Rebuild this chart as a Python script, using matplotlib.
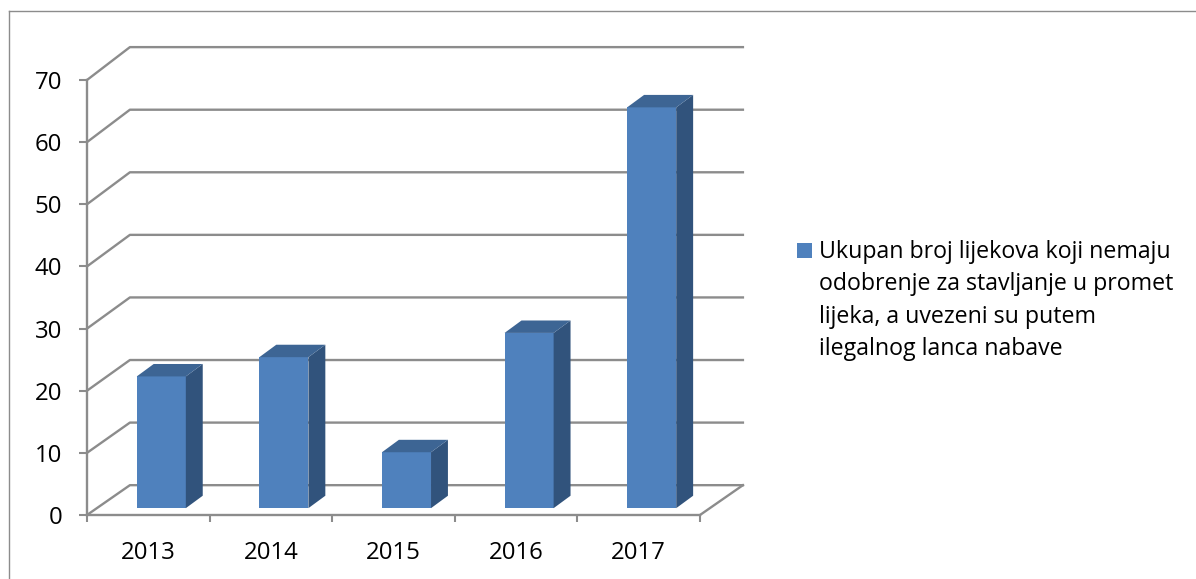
#! /usr/bin/env python3
from matplotlib import pyplot as plt
from matplotlib.lines import Line2D
from matplotlib.patches import Rectangle
import numpy as np

years = ["2013", "2014", "2015", "2016", "2017"]
counts = [21.2, 24.3, 9, 28.2, 64.5]
y_ticks = [0, 10, 20, 30, 40, 50, 60, 70]
legend_label = (
    "Ukupan broj lijekova koji nemaju\n"
    "odobrenje za stavljanje u promet\n"
    "lijeka, a uvezeni su putem\n"
    "ilegalnog lanca nabave"
)

W, H = 1196, 579
FRONT = "#4F81BD"
TOP = "#3D6594"
SIDE = "#31537C"
GREY = "#8C8C8C"

# depth of the fake 3D box, in data units
wall_dx, wall_dy = 0.35, 4.8
wall_scale = 1.007  # back wall is drawn a little taller than the front axis
bar_dx, bar_dy = 0.138, 2.0
bar_shift, bar_lift = 0.106, 1.1
bar_width = 0.4

plt.rcParams["font.family"] = ["Open Sans", "DejaVu Sans"]

fig = plt.figure(figsize=(W / 100, H / 100), dpi=100)
ax = fig.add_axes([87 / W, 1 - 515 / H, (700 - 87) / W, (515 - 80) / H])
ax.set_xlim(-0.5, 4.5)
ax.set_ylim(0, 70)

# back wall gridlines, with the slanted piece on the left
x_left, x_right = ax.get_xlim()
for v in y_ticks:
    back = v * wall_scale + wall_dy
    ax.plot(
        [x_left, x_left + wall_dx, x_right + wall_dx],
        [v, back, back],
        color=GREY, lw=1.7, clip_on=False, zorder=1,
    )
ax.plot(
    [x_right, x_right + wall_dx], [0, wall_dy],
    color=GREY, lw=1.7, clip_on=False, zorder=1,
)

# bars: front face plus side and top polygons
xs = np.arange(len(years)) + bar_shift
ax.bar(xs, counts, bar_width, bottom=bar_lift, color=FRONT, clip_on=False, zorder=3)
for x, v in zip(xs, counts):
    x0, x1 = x - bar_width / 2, x + bar_width / 2
    y0, y1 = bar_lift, bar_lift + v
    ax.fill(
        [x1, x1 + bar_dx, x1 + bar_dx, x1],
        [y0, y0 + bar_dy, y1 + bar_dy, y1],
        color=SIDE, lw=0, clip_on=False, zorder=3,
    )
    ax.fill(
        [x0, x0 + bar_dx, x1 + bar_dx, x1],
        [y1, y1 + bar_dy, y1 + bar_dy, y1],
        color=TOP, lw=0, clip_on=False, zorder=3,
    )

for side in ["top", "right"]:
    ax.spines[side].set_visible(False)
for side in ["left", "bottom"]:
    ax.spines[side].set_color(GREY)
    ax.spines[side].set_linewidth(1.7)

ax.set_yticks(y_ticks)
ax.tick_params(axis="y", length=5.8, width=1.5, color=GREY, pad=12, labelsize=17.3)
ax.set_xticks(range(len(years)), years)
ax.set_xticks(np.arange(-0.5, 5), minor=True)
ax.tick_params(axis="x", which="major", length=0, pad=19, labelsize=17.3)
ax.tick_params(axis="x", which="minor", length=5, width=1.5, color=GREY)

# chart frame, cut off by the right and bottom edges of the picture
fig.add_artist(Line2D([9 / W, 9 / W], [0, 1 - 11 / H], color=GREY, lw=1))
fig.add_artist(Line2D([9 / W, 1], [1 - 11 / H, 1 - 11 / H], color=GREY, lw=1))

# legend
fig.add_artist(Rectangle(
    (797 / W, 1 - 258 / H), 15 / W, 15 / H,
    transform=fig.transFigure, color=FRONT, lw=0,
))
fig.text(819 / W, 1 - 239.5 / H, legend_label, fontsize=16.7, va="top", linespacing=1.48)

fig.savefig("out.png", dpi=100)
